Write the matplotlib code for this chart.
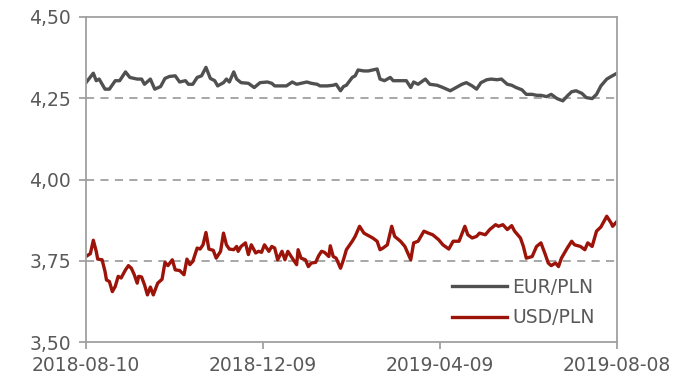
import datetime as dt

import matplotlib
matplotlib.use("Agg")
import matplotlib.pyplot as plt
import matplotlib.dates as mdates
from matplotlib.ticker import FixedLocator, FuncFormatter

# data (days after 2018-08-10, rate)
start = dt.date(2018, 8, 10)

eur_days = [0, 5, 7, 9, 13, 16, 20, 23, 27, 30, 35, 38, 40, 44, 47, 51, 54, 57, 61, 64,
            68, 70, 73, 76, 79, 82, 85, 88, 90, 94, 96, 98, 101, 103, 106, 111, 115, 119,
            124, 127, 129, 134, 137, 141, 144, 147, 151, 154, 158, 160, 165, 169, 171, 174,
            176, 178, 182, 184, 186, 190, 193, 196, 199, 201, 204, 208, 210, 215, 219, 222,
            224, 227, 232, 235, 240, 244, 249, 253, 257, 260, 264, 267, 270, 274, 277, 281,
            284, 288, 291, 294, 298, 301, 305, 308, 311, 315, 318, 322, 326, 329, 332, 335,
            339, 342, 346, 349, 352, 356, 359, 363]
eur_pln = [4.298, 4.327, 4.304, 4.309, 4.278, 4.278, 4.304, 4.304, 4.331, 4.314, 4.309,
           4.309, 4.293, 4.309, 4.278, 4.286, 4.311, 4.317, 4.319, 4.300, 4.304, 4.293,
           4.293, 4.314, 4.319, 4.345, 4.311, 4.304, 4.288, 4.298, 4.309, 4.300, 4.331,
           4.309, 4.298, 4.296, 4.283, 4.298, 4.300, 4.296, 4.288, 4.288, 4.288, 4.300,
           4.293, 4.296, 4.300, 4.296, 4.293, 4.288, 4.288, 4.290, 4.293, 4.273, 4.286,
           4.290, 4.314, 4.319, 4.337, 4.334, 4.334, 4.337, 4.340, 4.309, 4.304, 4.314,
           4.304, 4.304, 4.304, 4.283, 4.300, 4.293, 4.309, 4.293, 4.290, 4.283, 4.273,
           4.283, 4.293, 4.298, 4.288, 4.278, 4.298, 4.307, 4.309, 4.307, 4.309, 4.293,
           4.290, 4.283, 4.276, 4.262, 4.262, 4.259, 4.259, 4.255, 4.262, 4.249, 4.242,
           4.257, 4.270, 4.273, 4.265, 4.252, 4.249, 4.262, 4.288, 4.309, 4.317, 4.327]

usd_days = [0, 3, 5, 7, 8, 11, 13, 14, 16, 18, 20, 22, 24, 27, 29, 31, 33, 35, 36, 38,
            40, 42, 44, 46, 49, 52, 54, 56, 59, 61, 64, 67, 69, 71, 73, 76, 78, 80, 82, 84,
            87, 89, 92, 94, 96, 98, 101, 103, 104, 106, 109, 111, 113, 116, 118, 120, 122,
            125, 127, 129, 131, 134, 136, 138, 141, 144, 145, 147, 150, 152, 154, 157, 159,
            161, 163, 166, 167, 169, 171, 174, 176, 178, 182, 184, 187, 190, 192, 194, 196,
            199, 201, 203, 206, 209, 211, 215, 218, 222, 224, 227, 231, 234, 237, 241, 244,
            248, 251, 255, 259, 261, 264, 267, 269, 273, 276, 280, 282, 285, 288, 291, 293,
            297, 299, 301, 305, 308, 311, 314, 316, 318, 321, 323, 325, 329, 332, 334, 338,
            341, 343, 346, 349, 352, 356, 359, 360, 363]
usd_pln = [3.763, 3.772, 3.813, 3.779, 3.755, 3.753, 3.717, 3.691, 3.686, 3.655, 3.671,
           3.702, 3.697, 3.722, 3.735, 3.727, 3.707, 3.681, 3.702, 3.700, 3.676, 3.645,
           3.669, 3.645, 3.681, 3.693, 3.745, 3.735, 3.753, 3.722, 3.720, 3.707, 3.755,
           3.738, 3.748, 3.789, 3.786, 3.799, 3.837, 3.786, 3.782, 3.758, 3.779, 3.835,
           3.799, 3.786, 3.784, 3.794, 3.779, 3.794, 3.805, 3.769, 3.799, 3.774, 3.779,
           3.776, 3.799, 3.779, 3.794, 3.789, 3.753, 3.779, 3.753, 3.779, 3.758, 3.738,
           3.784, 3.758, 3.753, 3.732, 3.743, 3.745, 3.765, 3.779, 3.776, 3.763, 3.796,
           3.763, 3.758, 3.727, 3.753, 3.784, 3.810, 3.825, 3.856, 3.835, 3.830, 3.825,
           3.820, 3.810, 3.784, 3.789, 3.799, 3.856, 3.825, 3.810, 3.794, 3.753, 3.805,
           3.810, 3.841, 3.835, 3.830, 3.815, 3.799, 3.786, 3.810, 3.810, 3.856, 3.830,
           3.820, 3.825, 3.835, 3.830, 3.846, 3.861, 3.856, 3.861, 3.846, 3.858, 3.841,
           3.820, 3.794, 3.758, 3.763, 3.794, 3.805, 3.769, 3.743, 3.735, 3.743, 3.732,
           3.758, 3.789, 3.810, 3.799, 3.794, 3.784, 3.805, 3.794, 3.841, 3.854, 3.887,
           3.866, 3.856, 3.871]

x_ticks = ["2018-08-10", "2018-12-09", "2019-04-09", "2019-08-08"]
y_ticks = [3.50, 3.75, 4.00, 4.25, 4.50]

GRAY = "#595959"
FRAME = "#a0a0a0"

eur_dates = [start + dt.timedelta(days=d) for d in eur_days]
usd_dates = [start + dt.timedelta(days=d) for d in usd_days]
tick_dates = [dt.datetime.strptime(s, "%Y-%m-%d").date() for s in x_ticks]

fig = plt.figure(figsize=(6.78, 3.74), dpi=100)
ax = fig.add_axes([86/678, 1 - 342/374, 531/678, 325/374])

ax.plot(eur_dates, eur_pln, color="#505050", lw=2.4, label="EUR/PLN", solid_joinstyle="round")
ax.plot(usd_dates, usd_pln, color="#9c1409", lw=2.4, label="USD/PLN", solid_joinstyle="round")

for yv in y_ticks[1:-1]:
    ax.axhline(yv, color=FRAME, lw=1.3, ls=(0, (4.5, 3.5)), zorder=0)

ax.set_xlim(tick_dates[0], tick_dates[-1])
ax.set_ylim(y_ticks[0], y_ticks[-1])
ax.xaxis.set_major_locator(FixedLocator(mdates.date2num(tick_dates)))
ax.xaxis.set_major_formatter(mdates.DateFormatter("%Y-%m-%d"))
ax.yaxis.set_major_locator(FixedLocator(y_ticks))
ax.yaxis.set_major_formatter(FuncFormatter(lambda v, p: f"{v:.2f}".replace(".", ",")))

for s in ax.spines.values():
    s.set_color(FRAME)
    s.set_linewidth(1.3)
ax.tick_params(axis="both", colors=FRAME, labelcolor=GRAY, labelsize=13.5, length=5, width=1.3)
ax.tick_params(axis="x", pad=5)
ax.tick_params(axis="y", pad=6)

leg = ax.legend(loc="upper left", bbox_to_anchor=(0.69, 0.197), frameon=False,
                fontsize=13.5, handlelength=2.9, handletextpad=0.3, labelspacing=0.6,
                borderpad=0, borderaxespad=0)
for t in leg.get_texts():
    t.set_color(GRAY)

fig.savefig("out.png", dpi=100)
